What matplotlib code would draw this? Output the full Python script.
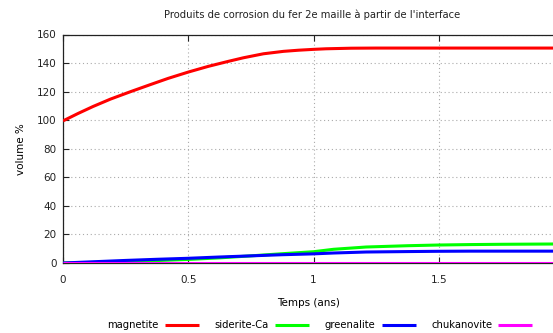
import matplotlib
matplotlib.use("Agg")
import matplotlib.pyplot as plt

# Data
t_mag = [0, 0.06, 0.12, 0.19, 0.27, 0.35, 0.42, 0.5, 0.58, 0.66, 0.72, 0.8, 0.88,
         0.94, 1.0, 1.05, 1.1, 1.15, 1.25, 1.5, 1.96]
magnetite = [99.5, 104.7, 109.6, 114.8, 120, 125, 129.3, 133.7, 137.7, 141.2, 143.7,
             146.5, 148.2, 149.0, 149.6, 150.0, 150.2, 150.4, 150.5, 150.5, 150.5]
t_min = [0, 0.125, 0.25, 0.375, 0.5, 0.625, 0.75, 0.875, 1.0, 1.08, 1.21, 1.375,
         1.5, 1.625, 1.75, 1.96]
siderite = [0, 0.4, 1.0, 1.7, 2.5, 3.6, 5.0, 6.5, 7.9, 9.6, 11.2, 12.1, 12.6, 12.9,
            13.1, 13.3]
greenalite = [0, 0.9, 1.8, 2.6, 3.3, 4.2, 5.0, 5.8, 6.4, 7.0, 7.7, 8.0, 8.2, 8.3,
              8.3, 8.3]
chukanovite = [0] * len(t_min)

xticks = [0, 0.5, 1, 1.5]
xticklabels = ["0", "0.5", "1", "1.5"]
yticks = [0, 20, 40, 60, 80, 100, 120, 140, 160]

plt.rcParams['font.family'] = ['DejaVu Sans']
fig = plt.figure(figsize=(5.53, 3.33), dpi=100)
ax = fig.add_axes([63/553, (333-263)/333, 1 - 63/553 + 0.002, (263-34.5)/333])

lw = 2.2
kw = dict(lw=lw, solid_joinstyle="round", solid_capstyle="butt")
ax.plot(t_mag, magnetite, color="#ff0000", label="magnetite", zorder=3, **kw)
ax.plot(t_min, siderite, color="#00ff00", label="siderite-Ca", zorder=3, **kw)
ax.plot(t_min, greenalite, color="#0000ff", label="greenalite", zorder=4, **kw)
ax.plot(t_min, chukanovite, color="#ff00ff", label="chukanovite", zorder=5, **kw)

ax.set_xlim(0, 1.96)
ax.set_ylim(0, 160)
ax.set_xticks(xticks)
ax.set_xticklabels(xticklabels)
ax.set_yticks(yticks)
ax.tick_params(direction="in", length=4, labelsize=7.5, colors="#222222", top=True)
ax.tick_params(axis="x", pad=8.5)
ax.tick_params(axis="y", pad=4.5)
ax.grid(True, color="#aaaaaa", linestyle=(0, (1, 2.5)), linewidth=0.8)
ax.spines["right"].set_visible(False)
for s in ["left", "bottom", "top"]:
    ax.spines[s].set_color("#222222")
    ax.spines[s].set_linewidth(0.9)

ax.set_xlabel("Temps (ans)", fontsize=7.5, labelpad=9.5)
ax.set_ylabel("volume %", fontsize=7.5, labelpad=8)
fig.text(312/553, 1 - 15/333, "Produits de corrosion du fer 2e maille à partir de l'interface",
         ha="center", va="center", fontsize=7.2, color="#222222")

leg = fig.legend(loc="center", bbox_to_anchor=(320/553, 1 - 325/333), ncol=4, frameon=False,
                 markerfirst=False, fontsize=7.2, handlelength=3.4, columnspacing=1.55,
                 handletextpad=0.62)

fig.savefig("out.png", dpi=100)
